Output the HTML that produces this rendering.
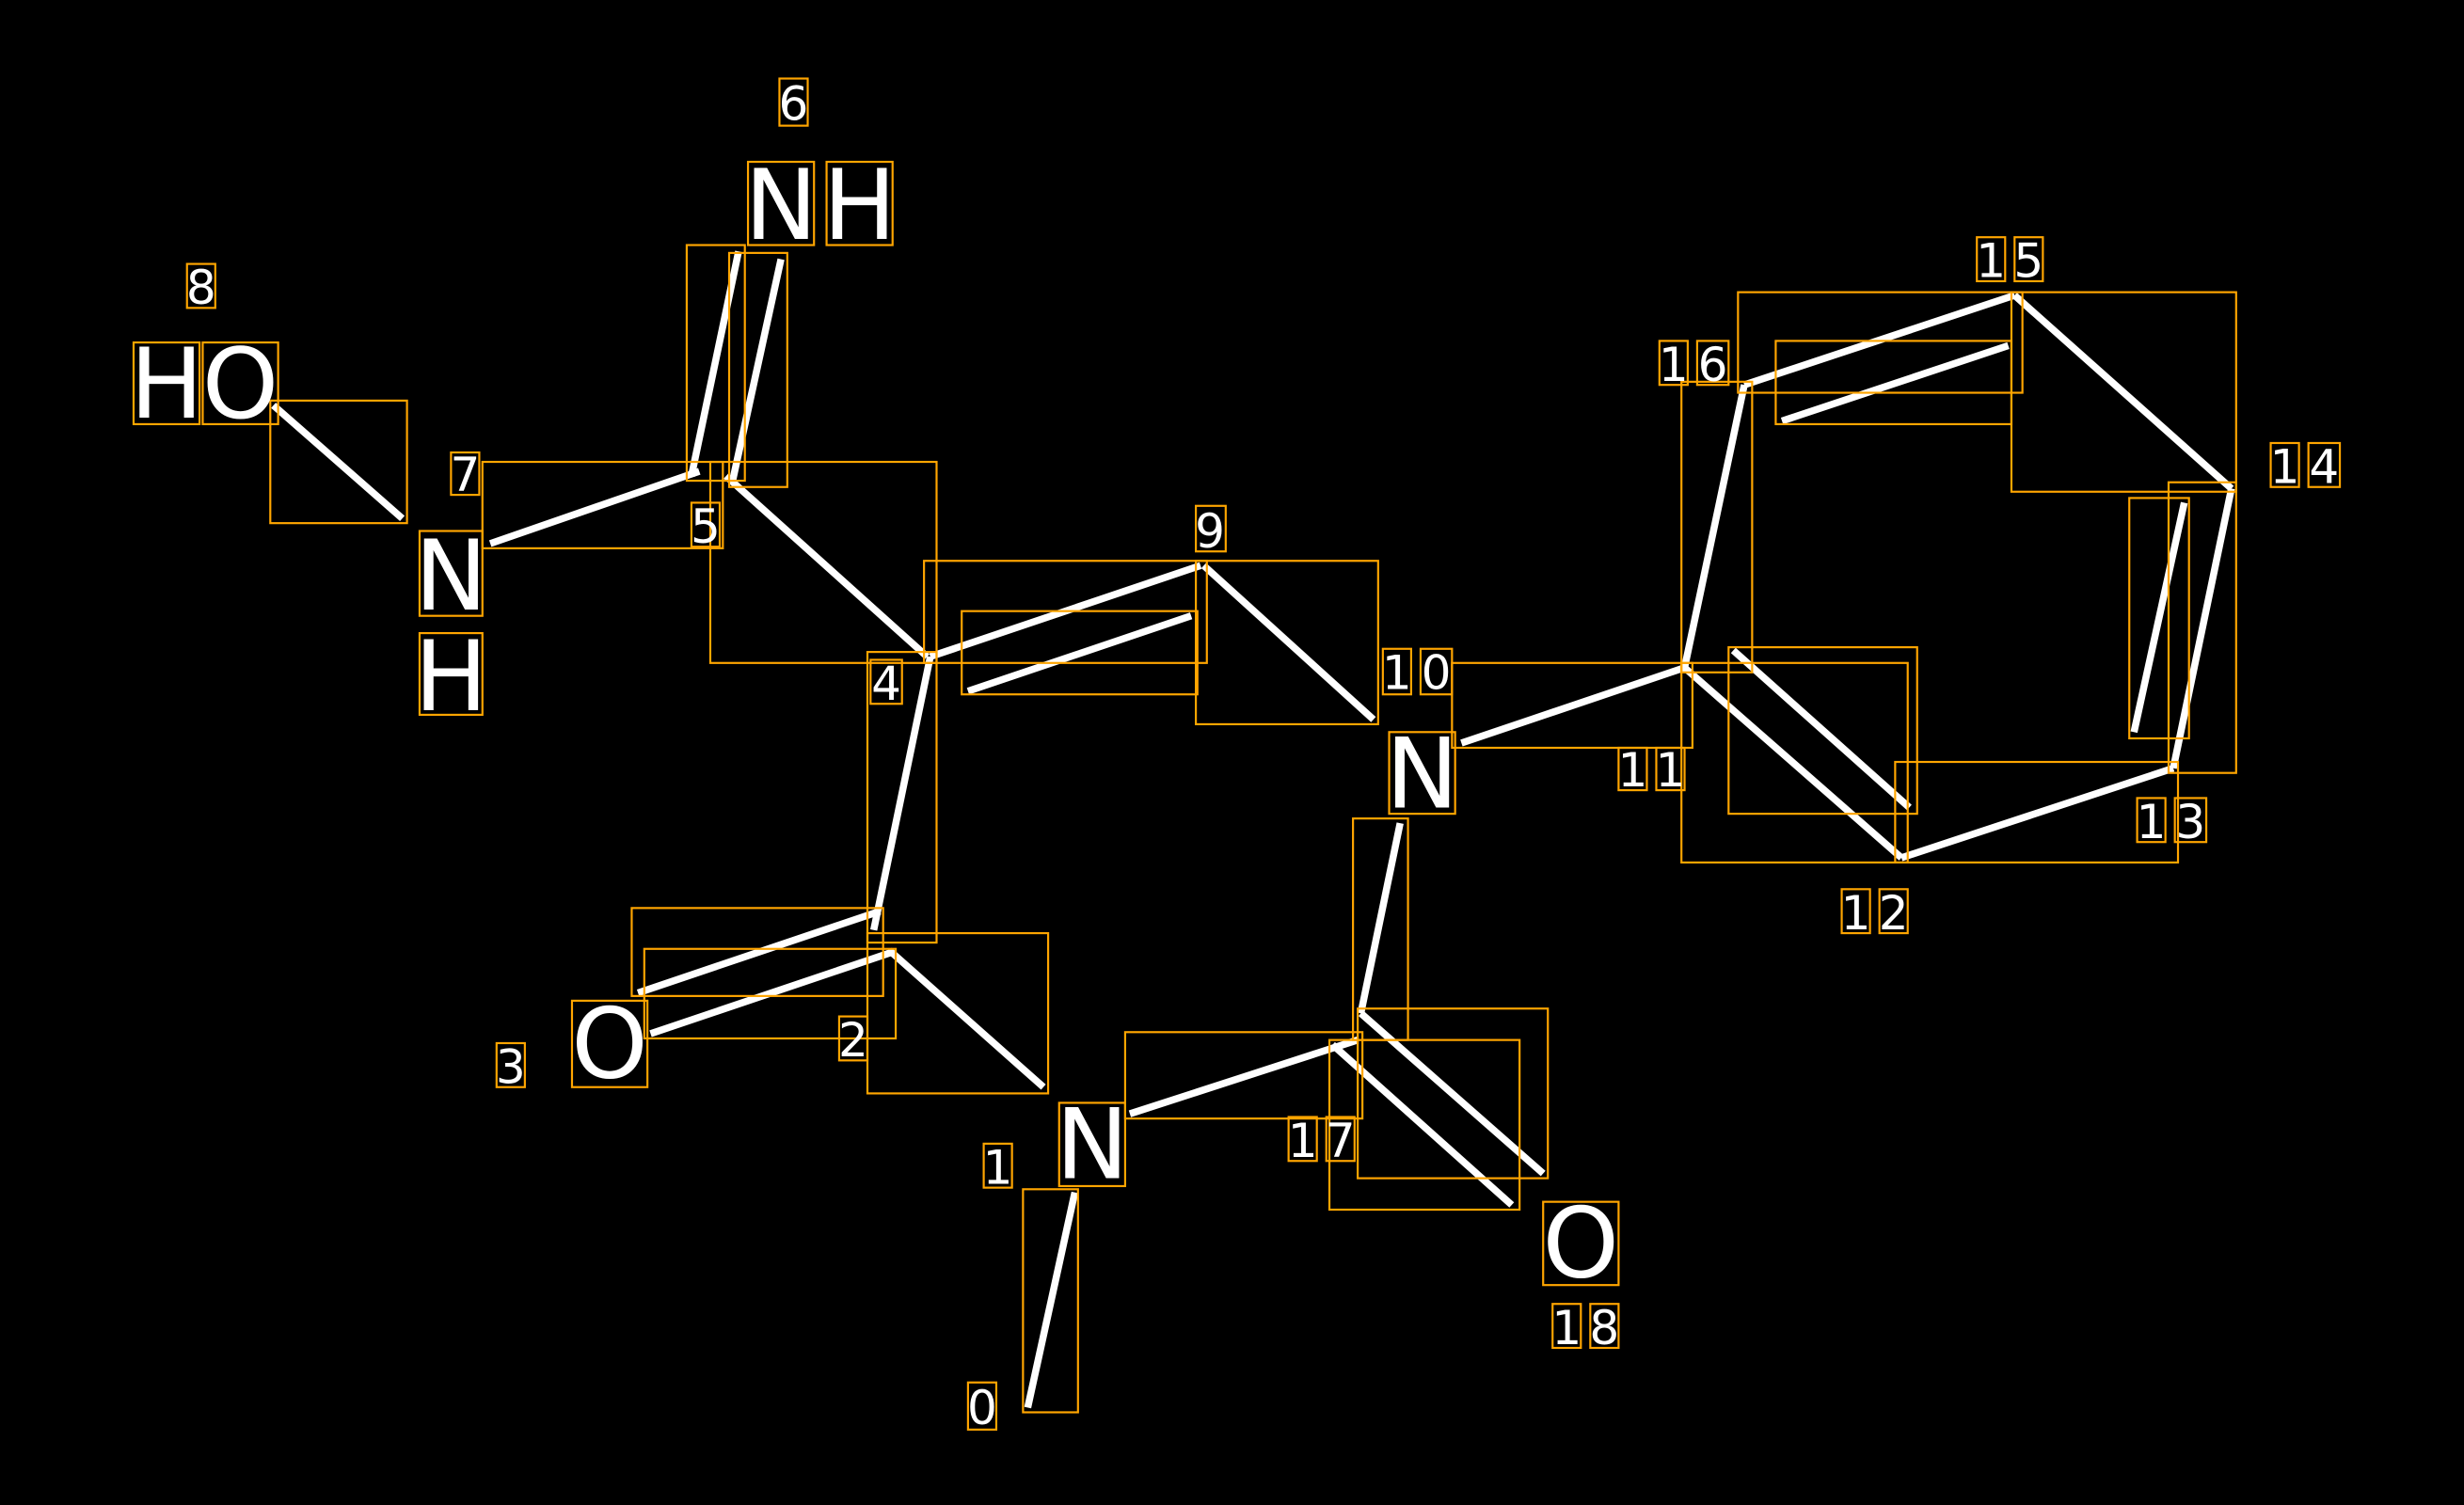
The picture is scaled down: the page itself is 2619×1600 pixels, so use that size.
<!DOCTYPE html>
<html><head><meta charset="utf-8"><style>
html,body{margin:0;padding:0;background:#000;width:2619px;height:1600px;overflow:hidden}
svg{display:block}
text{font-family:"DejaVu Sans","Liberation Sans",sans-serif;fill:#fff;text-anchor:middle;dominant-baseline:central}
.b{stroke:#fff;stroke-width:4.5;stroke-linecap:butt}
.r{fill:none;stroke:#FFA500;stroke-width:1.3}
.s{font-size:30px}
.L{font-size:62px}
</style></head><body>
<svg width="2619" height="1600" viewBox="0 0 1568 958" preserveAspectRatio="none" xmlns="http://www.w3.org/2000/svg">
<rect width="1568" height="958" fill="#000"/>
<!-- bonds -->
<g class="b">
<line x1="654" y1="896" x2="684" y2="759"/>
<line x1="719" y1="709" x2="864" y2="662"/>
<line x1="664" y1="692" x2="566" y2="605"/>
<line x1="406" y1="632" x2="560" y2="580"/>
<line x1="414" y1="658" x2="568" y2="606"/>
<line x1="556" y1="592" x2="592" y2="418"/>
<line x1="590" y1="418" x2="462" y2="303"/>
<line x1="592" y1="418" x2="764" y2="360"/>
<line x1="616" y1="440" x2="758" y2="392"/>
<line x1="766" y1="360" x2="874" y2="458"/>
<line x1="440" y1="303" x2="470" y2="160"/>
<line x1="466" y1="307" x2="497" y2="165"/>
<line x1="312" y1="346" x2="445" y2="300"/>
<line x1="174" y1="258" x2="256" y2="330"/>
<line x1="930" y1="473" x2="1072" y2="425"/>
<line x1="891" y1="524" x2="866" y2="645"/>
<line x1="866" y1="645" x2="982" y2="747"/>
<line x1="848" y1="665" x2="962" y2="767"/>
<line x1="1072" y1="425" x2="1210" y2="546"/>
<line x1="1103" y1="414" x2="1215" y2="514"/>
<line x1="1072" y1="425" x2="1110" y2="245"/>
<line x1="1110" y1="245" x2="1282" y2="188"/>
<line x1="1134" y1="268" x2="1278" y2="220"/>
<line x1="1282" y1="188" x2="1420" y2="311"/>
<line x1="1420" y1="311" x2="1383" y2="489"/>
<line x1="1390" y1="320" x2="1358" y2="466"/>
<line x1="1383" y1="489" x2="1210" y2="546"/>
</g>
<!-- bond boxes -->
<g class="r">
<rect x="651" y="757" width="35" height="142"/>
<rect x="716" y="657" width="151" height="55"/>
<rect x="552" y="594" width="115" height="102"/>
<rect x="402" y="578" width="160" height="56"/>
<rect x="410" y="604" width="160" height="57"/>
<rect x="552" y="415" width="44" height="185"/>
<rect x="452" y="294" width="144" height="128"/>
<rect x="588" y="357" width="180" height="65"/>
<rect x="612" y="389" width="150" height="53"/>
<rect x="761" y="357" width="116" height="104"/>
<rect x="437" y="156" width="37" height="150"/>
<rect x="464" y="161" width="37" height="149"/>
<rect x="307" y="294" width="153" height="55"/>
<rect x="172" y="255" width="87" height="78"/>
<rect x="924" y="422" width="153" height="54"/>
<rect x="861" y="521" width="35" height="141"/>
<rect x="864" y="642" width="121" height="108"/>
<rect x="846" y="662" width="121" height="108"/>
<rect x="1070" y="422" width="144" height="127"/>
<rect x="1100" y="412" width="120" height="106"/>
<rect x="1070" y="243" width="45" height="185"/>
<rect x="1106" y="186" width="181" height="64"/>
<rect x="1130" y="217" width="150" height="53"/>
<rect x="1280" y="186" width="143" height="127"/>
<rect x="1380" y="307" width="43" height="185"/>
<rect x="1355" y="317" width="38" height="153"/>
<rect x="1206" y="485" width="180" height="64"/>
</g>
<!-- labels -->
<g class="r">
<rect x="496" y="50" width="18" height="30"/>
<rect x="476" y="103" width="42" height="53"/><rect x="526" y="103" width="42" height="53"/>
<rect x="119" y="168" width="18" height="28"/>
<rect x="85" y="218" width="42" height="52"/><rect x="129" y="218" width="48" height="52"/>
<rect x="287" y="288" width="18" height="27"/>
<rect x="267" y="338" width="40" height="54"/><rect x="267" y="403" width="40" height="52"/>
<rect x="440" y="320" width="18" height="28"/>
<rect x="761" y="322" width="19" height="29"/>
<rect x="554" y="420" width="20" height="28"/>
<rect x="880" y="413" width="18" height="29"/><rect x="904" y="413" width="20" height="29"/>
<rect x="884" y="466" width="42" height="52"/>
<rect x="1030" y="476" width="18" height="27"/><rect x="1054" y="476" width="18" height="27"/>
<rect x="1172" y="566" width="18" height="28"/><rect x="1196" y="566" width="18" height="28"/>
<rect x="1360" y="508" width="18" height="28"/><rect x="1384" y="508" width="20" height="28"/>
<rect x="1445" y="282" width="18" height="28"/><rect x="1469" y="282" width="20" height="28"/>
<rect x="1258" y="151" width="18" height="28"/><rect x="1282" y="151" width="18" height="28"/>
<rect x="1056" y="217" width="18" height="28"/><rect x="1080" y="217" width="20" height="28"/>
<rect x="316" y="664" width="18" height="28"/>
<rect x="364" y="637" width="48" height="55"/>
<rect x="534" y="647" width="18" height="28"/>
<rect x="626" y="728" width="18" height="28"/>
<rect x="674" y="702" width="42" height="53"/>
<rect x="820" y="711" width="18" height="28"/><rect x="844" y="711" width="18" height="28"/>
<rect x="616" y="880" width="18" height="30"/>
<rect x="982" y="765" width="48" height="53"/>
<rect x="988" y="830" width="18" height="28"/><rect x="1012" y="830" width="18" height="28"/>
</g>
<g>
<text class="s" x="505" y="66">6</text>
<text class="L" x="497" y="131">N</text><text class="L" x="547" y="131">H</text>
<text class="s" x="128" y="183">8</text>
<text class="L" x="106" y="245">H</text><text class="L" x="153" y="245">O</text>
<text class="s" x="296" y="302">7</text>
<text class="L" x="287" y="367">N</text><text class="L" x="287" y="431">H</text>
<text class="s" x="449" y="335">5</text>
<text class="s" x="770" y="338">9</text>
<text class="s" x="564" y="435">4</text>
<text class="s" x="889" y="428">1</text><text class="s" x="914" y="428">0</text>
<text class="L" x="905" y="493">N</text>
<text class="s" x="1039" y="490">1</text><text class="s" x="1063" y="490">1</text>
<text class="s" x="1181" y="581">1</text><text class="s" x="1205" y="581">2</text>
<text class="s" x="1369" y="523">1</text><text class="s" x="1394" y="523">3</text>
<text class="s" x="1454" y="297">1</text><text class="s" x="1479" y="297">4</text>
<text class="s" x="1267" y="166">1</text><text class="s" x="1291" y="166">5</text>
<text class="s" x="1065" y="232">1</text><text class="s" x="1090" y="232">6</text>
<text class="s" x="325" y="679">3</text>
<text class="L" x="388" y="665">O</text>
<text class="s" x="543" y="662">2</text>
<text class="s" x="635" y="743">1</text>
<text class="L" x="695" y="729">N</text>
<text class="s" x="829" y="726">1</text><text class="s" x="853" y="726">7</text>
<text class="s" x="625" y="896">0</text>
<text class="L" x="1006" y="792">O</text>
<text class="s" x="997" y="845">1</text><text class="s" x="1021" y="845">8</text>
</g>
</svg>
</body></html>
